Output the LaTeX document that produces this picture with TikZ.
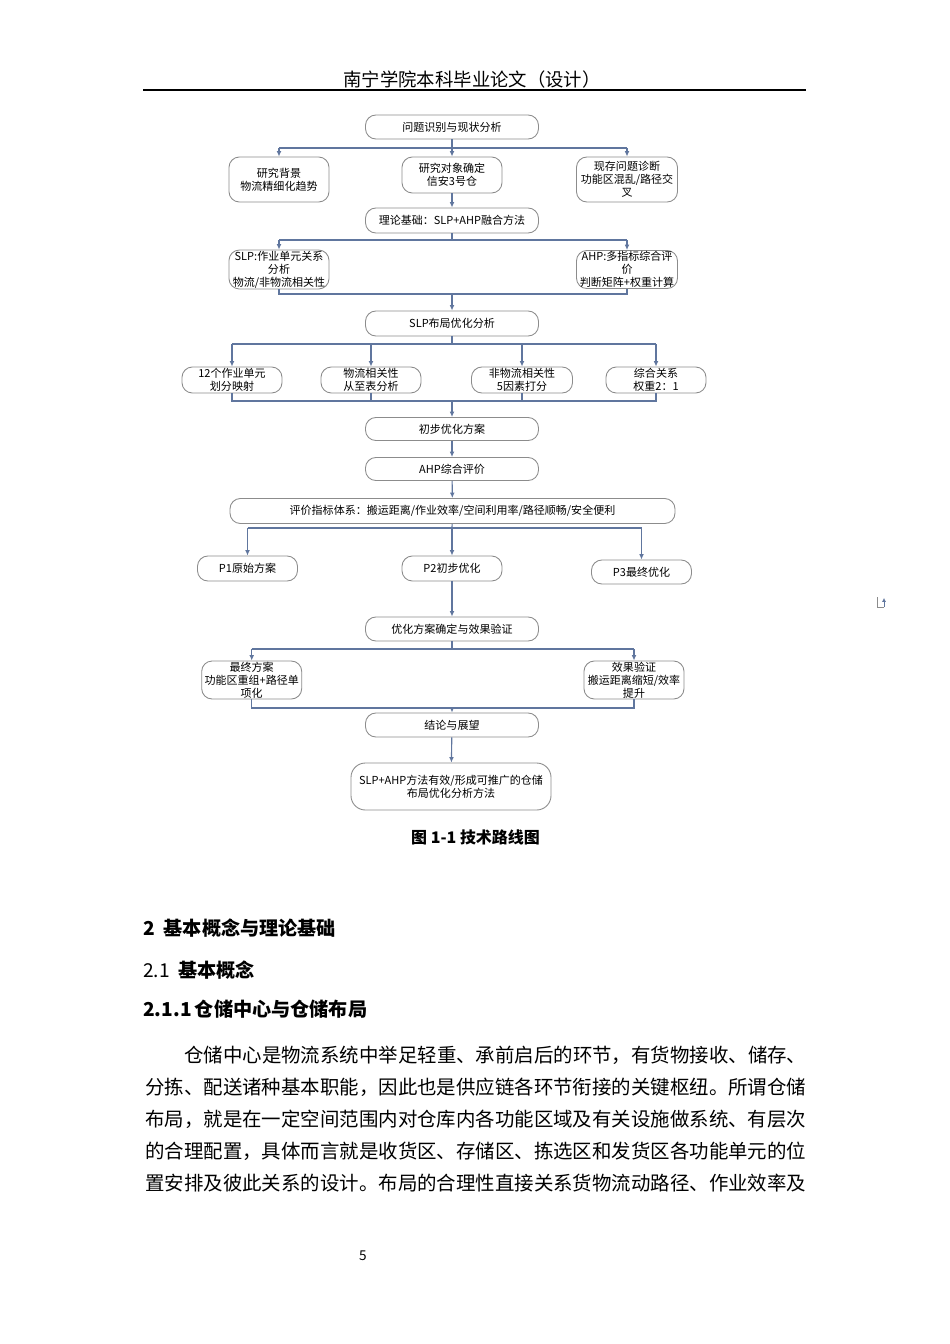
\documentclass[tikz,border=0pt]{standalone}
\usepackage{fontspec}
\setmainfont{Noto Sans CJK SC}
\usetikzlibrary{arrows.meta}
\definecolor{linec}{RGB}{96,118,158}
\definecolor{boxc}{RGB}{140,140,140}
\newcommand{\dfont}{\fontsize{6.9pt}{8.2pt}\selectfont}
\newcommand{\bodyfont}{\fontsize{12.18pt}{14pt}\selectfont}
\begin{document}
\begin{tikzpicture}[x=0.62661pt,y=-0.62661pt,
  box/.style={draw=boxc, line width=0.55pt, rounded corners=6.5pt, fill=white, align=center, inner sep=0.5pt, font=\dfont},
  wh/.style 2 args={minimum width=#1*0.62661pt, minimum height=#2*0.62661pt},
  conn/.style={draw=linec, line width=0.7pt},
  arr/.style={conn, -{Latex[length=3.4pt,width=3pt]}},
  body/.style={anchor=west, inner sep=0pt, font=\bodyfont},
  head/.style={anchor=west, inner sep=0pt, font=\bfseries\fontsize{12pt}{14pt}\selectfont}]
\fill[white] (0,0) rectangle (950,1344);

% header
\node[font=\fontsize{11.5pt}{13pt}\selectfont] (hdr) at (472,80) {南宁学院本科毕业论文（设计）};
\coordinate (hl) at (143,90);
\coordinate (hr) at (806,90);
\draw[line width=0.8pt] (hl) -- (hr);

% diagram nodes
\node[box, wh={173}{24}] (n1) at (452,127) {问题识别与现状分析};
\node[box, wh={100}{45}] (n2a) at (279,179.5) {研究背景\\物流精细化趋势};
\node[box, wh={100}{36}] (n2b) at (452,175) {研究对象确定\\信安3号仓};
\node[box, wh={101}{45}] (n2c) at (627,179.5) {现存问题诊断\\功能区混乱/路径交\\叉};
\node[box, wh={173}{25}] (n3) at (452,220.5) {理论基础：SLP+AHP融合方法};
\node[box, wh={100}{35}] (n4a) at (279,269.5) {SLP:作业单元关系\\分析\\物流/非物流相关性};
\node[box, wh={101}{35}] (n4b) at (627,269.5) {AHP:多指标综合评\\价\\判断矩阵+权重计算};
\node[box, wh={173}{25}] (n5) at (452,323.5) {SLP布局优化分析};
\node[box, wh={100}{26}] (n6a) at (232,380) {12个作业单元\\划分映射};
\node[box, wh={100}{26}] (n6b) at (371,380) {物流相关性\\从至表分析};
\node[box, wh={101}{26}] (n6c) at (522,380) {非物流相关性\\5因素打分};
\node[box, wh={100}{26}] (n6d) at (656,380) {综合关系\\权重2：1};
\node[box, wh={173}{23}] (n7) at (452,429) {初步优化方案};
\node[box, wh={173}{23}] (n8) at (452,469) {AHP综合评价};
\node[box, wh={445}{25}] (n9) at (452.5,511) {评价指标体系：搬运距离/作业效率/空间利用率/路径顺畅/安全便利};
\node[box, wh={100}{25}] (n10a) at (247.5,568.5) {P1原始方案};
\node[box, wh={100}{25}] (n10b) at (452,568.5) {P2初步优化};
\node[box, wh={100}{24}] (n10c) at (641.5,572) {P3最终优化};
\node[box, wh={173}{24}] (n11) at (452,629) {优化方案确定与效果验证};
\node[box, wh={100}{36}] (n12a) at (251.7,680) {最终方案\\功能区重组+路径单\\项化};
\node[box, wh={100}{36}] (n12b) at (634,680) {效果验证\\搬运距离缩短/效率\\提升};
\node[box, wh={173}{24}] (n13) at (452,725) {结论与展望};
\node[box, wh={200}{47}, rounded corners=9pt] (n14) at (451,786.5) {SLP+AHP方法有效/形成可推广的仓储\\布局优化分析方法};

% connectors
\coordinate (b1) at (452,148);
\draw[conn] (n2a.north |- b1) -- (n2c.north |- b1);
\draw[arr] (n1) -- (n2b);
\draw[arr] (n2a.north |- b1) -- (n2a);
\draw[arr] (n2c.north |- b1) -- (n2c);

\draw[arr] (n2b) -- (n3);
\coordinate (b2) at (452,240);
\draw[conn] (n3) -- (b2);
\draw[conn] (n4a.north |- b2) -- (n4b.north |- b2);
\draw[arr] (n4a.north |- b2) -- (n4a);
\draw[arr] (n4b.north |- b2) -- (n4b);

\coordinate (b3) at (452,294);
\draw[conn] (n4a) -- (n4a.south |- b3) -- (n4b.south |- b3) -- (n4b);
\draw[arr] (b3) -- (n5);

\coordinate (b4) at (452,344);
\draw[conn] (n5) -- (b4);
\draw[conn] (n6a.north |- b4) -- (n6d.north |- b4);
\foreach \n in {n6a,n6b,n6c,n6d} \draw[arr] (\n.north |- b4) -- (\n);

\coordinate (b5) at (452,401);
\draw[conn] (n6a) -- (n6a.south |- b5) -- (n6d.south |- b5) -- (n6d);
\draw[conn] (n6b) -- (n6b.south |- b5);
\draw[conn] (n6c) -- (n6c.south |- b5);
\draw[arr] (b5) -- (n7);
\draw[arr] (n7) -- (n8);
\draw[arr] (n8) -- (n9);

\coordinate (b6) at (452,528);
\draw[conn] (n9) -- (b6);
\draw[conn] (n10a.north |- b6) -- (n10c.north |- b6);
\foreach \n in {n10a,n10b,n10c} \draw[arr] (\n.north |- b6) -- (\n);
\draw[arr] (n10b) -- (n11);

\coordinate (b7) at (452,649);
\draw[conn] (n11) -- (b7);
\draw[conn] (n12a.north |- b7) -- (n12b.north |- b7);
\draw[arr] (n12a.north |- b7) -- (n12a);
\draw[arr] (n12b.north |- b7) -- (n12b);

\coordinate (b8) at (452,708);
\draw[conn] (n12a) -- (n12a.south |- b8) -- (n12b.south |- b8) -- (n12b);
\draw[arr] (b8) -- (n13);
\draw[arr] (n13) -- (n14);

% caption
\node[font=\bfseries\fontsize{10pt}{12pt}\selectfont] (cap) at (475.5,837) {图\ 1-1\ 技术路线图};

% paragraph mark
\draw[boxc, line width=0.6pt] (877,597) -- (877,607) -- (884,607);
\draw[linec, line width=0.6pt, -{Latex[length=2.4pt,width=2.6pt]}] (884,607) -- (884,598);

% headings
\node[head] (h1) at (143,928) {2\ \ 基本概念与理论基础};
\node[anchor=west, inner sep=0pt, font=\fontsize{12pt}{14pt}\selectfont] (h2) at (143,970) {2.1\ \ \textbf{基本概念}};
\node[head] (h3) at (143,1009) {2.1.1\,仓储中心与仓储布局};

% body
\node[body] (l1) at (184,1055) {仓储中心是物流系统中举足轻重、承前启后的环节，有货物接收、储存、};
\node[body] (l2) at (145,1087) {分拣、配送诸种基本职能，因此也是供应链各环节衔接的关键枢纽。所谓仓储};
\node[body] (l3) at (145,1119) {布局，就是在一定空间范围内对仓库内各功能区域及有关设施做系统、有层次};
\node[body] (l4) at (145,1151) {的合理配置，具体而言就是收货区、存储区、拣选区和发货区各功能单元的位};
\node[body] (l5) at (145,1183) {置安排及彼此关系的设计。布局的合理性直接关系货物流动路径、作业效率及};

% page number
\node[font=\fontsize{8.5pt}{10pt}\selectfont] (pg) at (363,1256) {5};
\end{tikzpicture}
\end{document}
